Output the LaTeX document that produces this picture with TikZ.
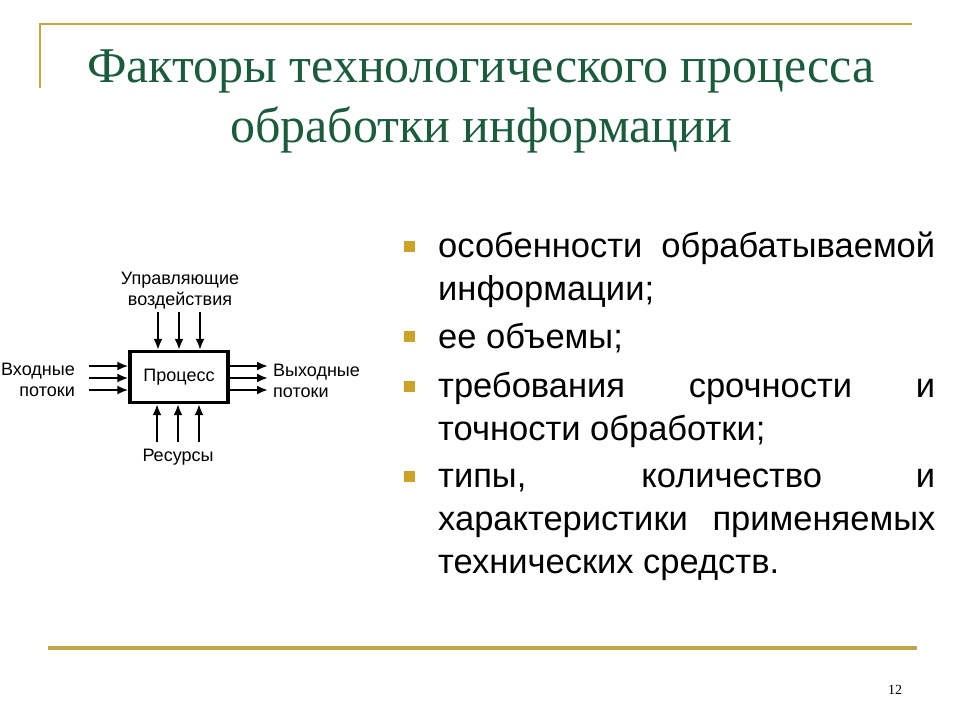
\documentclass[tikz,border=0pt]{standalone}
\usepackage{fontspec}
\setmainfont{Liberation Sans}
\newfontfamily\headfont{Liberation Serif}
\usetikzlibrary{positioning,arrows.meta}

\begin{document}
\begin{tikzpicture}[x=1pt, y=-1pt, >={Latex[length=11pt,width=9pt]}]
  % Define colors
  \definecolor{rulegold}{RGB}{192,166,70}
  \definecolor{headgreen}{RGB}{26,92,60}
  \definecolor{bulletgold}{RGB}{204,163,40}

  % Styles
  \tikzset{
    item/.style={anchor=base west, inner sep=0pt, text width=497pt, align=justify,
      font=\fontsize{34.5}{43}\selectfont},
    bulletbox/.style={fill=bulletgold, minimum size=11pt, inner sep=0pt},
    lbl/.style={inner sep=0pt, font=\fontsize{18}{21}\selectfont},
    flow/.style={->, line width=2.2pt},
  }

  \useasboundingbox (0,0) rectangle (960,720);

  % Frame lines
  \draw[rulegold, line width=2pt] (40,88) -- (40,24) -- (912,24);
  \draw[rulegold, line width=3.5pt] (48,648) -- (917,648);

  % Title
  \node[headgreen, align=center, anchor=base, inner sep=0pt,
    font=\headfont\fontsize{50}{60}\selectfont] (title) at (481,142)
    {Факторы технологического процесса\\обработки информации};

  % Bullet list
  \node[item] (item1) at (438,257) {особенности обрабатываемой\linebreak информации;};
  \node[item] (item2) at (438,348) {ее объемы;};
  \node[item] (item3) at (438,397) {требования срочности и\linebreak точности обработки;};
  \node[item] (item4) at (438,487) {типы, количество и\linebreak характеристики применяемых\linebreak технических средств.};
  \foreach \y in {246,336,386,476} {
    \node[bulletbox] at (409,\y) {};
  }

  % Process box
  \node[draw, line width=3.2pt, minimum width=98pt, minimum height=51pt, lbl] (proc) at (179,377) {Процесс};

  % Labels
  \node[lbl, align=center, anchor=base] (ctrl) at (180,305) {Управляющие\\воздействия};
  \node[lbl, anchor=base] (res) at (178,461) {Ресурсы};
  \node[lbl, align=right, anchor=base east] (inp) at (75,396) {Входные\\потоки};
  \node[lbl, align=left, anchor=base west] (outp) at (273,397) {Выходные\\потоки};

  % Arrows
  \foreach \d [count=\i] in {-21,0,21} {
    \coordinate (up\i) at (179+\d,312);
    \coordinate (dn\i) at (178+\d,442);
    \draw[flow] (up\i) -- (up\i |- proc.north);
    \draw[flow] (dn\i) -- (dn\i |- proc.south);
  }
  \foreach \d [count=\i] in {-12,0,12} {
    \coordinate (in\i) at (89,378+\d);
    \coordinate (out\i) at (268,378+\d);
    \draw[flow] (in\i) -- (in\i -| proc.west);
    \draw[flow] (out\i -| proc.east) -- (out\i);
  }

  % Page number
  \node[font=\headfont\fontsize{14}{16}\selectfont, inner sep=0pt] (pagenum) at (895,690) {12};
\end{tikzpicture}
\end{document}
